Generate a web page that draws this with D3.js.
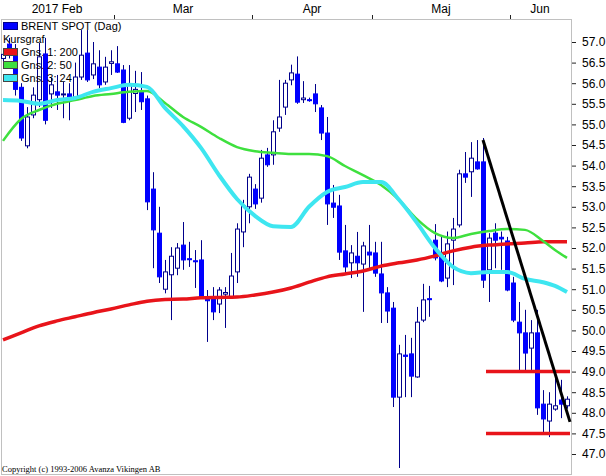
<!DOCTYPE html>
<html>
<head>
<meta charset="utf-8">
<script src="https://cdn.jsdelivr.net/npm/d3@7"></script>
<style>
  body { margin: 0; background: #fff; }
  text { font-family: "Liberation Sans", Arial, sans-serif; }
</style>
</head>
<body>
<script>
// chart data, one entry per trading day
const opens  = [56.60,56.95,56.80,55.90,54.48,55.23,55.60,56.71,55.74,55.79,55.72,55.74,55.64,56.15,56.73,56.20,56.39,56.03,56.48,56.47,
                56.32,55.15,55.75,55.80,55.62,53.43,52.36,51.00,51.35,51.51,52.07,51.74,51.69,51.71,50.80,50.81,50.64,50.88,50.81,51.42,
                52.39,53.00,53.43,53.21,54.26,54.26,54.91,55.42,56.08,56.22,55.60,55.60,55.74,55.40,54.79,53.09,53.02,51.93,51.64,51.80,
                51.61,51.90,51.88,51.37,50.91,50.54,48.38,49.40,49.43,48.87,50.25,50.77,52.19,51.78,51.27,52.19,52.56,53.80,53.85,54.09,
                54.09,51.47,52.36,52.26,52.17,51.15,50.20,49.94,49.57,49.94,48.21,47.80,48.09,48.31,48.17];
const highs  = [56.85,57.10,56.95,56.00,55.42,55.90,56.98,57.10,56.13,56.20,56.03,56.00,56.50,57.29,57.29,57.00,56.80,56.64,56.80,56.90,
                56.44,56.44,56.30,56.27,55.70,53.84,53.00,51.71,52.02,52.12,52.63,52.15,51.95,52.19,50.98,51.05,51.05,51.05,51.88,52.60,
                53.17,53.80,53.55,54.38,54.43,55.10,56.08,56.08,56.45,56.65,56.05,55.65,55.98,55.47,55.18,53.53,53.29,52.56,52.07,52.39,
                52.15,52.56,52.15,52.15,51.05,50.69,49.65,49.89,49.82,50.57,51.13,51.08,52.58,52.27,52.40,52.73,53.90,54.33,54.57,54.62,
                54.67,52.36,52.60,52.40,52.27,51.30,50.69,50.50,50.25,50.50,48.55,48.50,49.04,48.80,48.40];
const lows   = [56.50,56.60,55.70,54.60,54.42,55.15,55.42,55.00,55.40,55.35,55.15,55.10,55.59,56.08,56.03,56.10,55.88,55.96,56.20,56.25,
                55.03,55.10,55.30,55.35,52.92,51.51,51.15,50.90,50.25,51.34,51.47,51.54,51.03,50.78,49.72,50.25,50.42,50.06,50.78,51.15,
                52.02,52.60,52.95,53.10,53.97,54.02,54.82,55.23,55.95,55.50,55.52,55.55,55.30,54.62,52.56,52.73,51.71,51.39,51.27,51.30,
                50.45,51.47,51.30,50.18,50.18,48.14,46.66,48.38,48.38,48.85,50.20,50.33,51.70,51.17,51.05,51.10,52.50,53.58,53.24,53.90,
                51.03,50.69,51.51,51.47,50.95,50.20,48.97,48.97,49.00,47.95,47.53,47.41,48.05,47.87,48.10];
const closes = [56.70,56.80,55.85,54.67,55.18,55.71,56.64,55.10,55.96,55.71,55.74,55.67,56.15,56.68,56.08,56.47,55.96,56.39,56.52,56.27,
                55.05,55.96,55.85,55.55,53.12,52.44,51.30,51.42,51.80,52.00,51.71,51.72,51.67,50.81,50.72,50.45,50.98,50.92,51.32,52.46,
                53.02,53.72,53.07,54.18,54.02,54.82,55.18,56.00,56.25,55.54,55.64,55.58,55.50,54.79,53.07,52.99,51.90,51.54,51.88,51.64,
                52.05,51.83,51.39,50.91,50.47,48.38,49.43,49.37,48.89,50.20,50.74,50.75,51.76,51.20,52.10,52.46,53.80,53.72,54.18,53.92,
                51.22,52.24,52.19,52.22,50.98,50.25,49.94,49.45,49.94,48.12,47.85,48.21,48.17,48.21,48.33];

// moving averages, sampled at these day indices
const maIdx   = [0,3,6,9,12,15,18,21,24,27,30,33,36,39,42,45,48,51,54,57,60,63,66,69,72,75,78,81,84,87,90,92,94];
const ma200   = [49.77,49.94,50.11,50.23,50.33,50.43,50.52,50.62,50.71,50.75,50.76,50.79,50.80,50.81,50.86,50.93,51.03,51.17,51.30,51.37,
                 51.44,51.56,51.64,51.71,51.81,51.93,52.02,52.07,52.10,52.12,52.15,52.15,52.15];
const ma50    = [54.60,55.13,55.35,55.50,55.59,55.69,55.74,55.79,55.81,55.52,55.18,54.94,54.67,54.45,54.35,54.31,54.28,54.28,54.23,53.99,
                 53.77,53.53,53.17,52.70,52.36,52.24,52.34,52.41,52.46,52.44,52.17,51.95,51.76];
const ma24    = [55.59,55.57,55.50,55.59,55.64,55.79,55.88,55.96,55.91,55.40,54.96,54.43,53.77,53.19,52.78,52.53,52.51,53.00,53.36,53.48,
                 53.60,53.60,53.17,52.61,52.00,51.54,51.39,51.42,51.42,51.25,51.17,51.08,50.93];

// drawn lines: trend line and support levels
const trendIdx = [80, 94.5];
const trendVal = [54.62, 47.78];
const levels = [49.0, 47.5];
const levelFrom = 80.5;

const months = ["2017 Feb", "Mar", "Apr", "Maj", "Jun"];
const monthStart = [0, 19, 42, 62, 85];
const yTicks = [47,47.5,48,48.5,49,49.5,50,50.5,51,51.5,52,52.5,53,53.5,54,54.5,55,55.5,56,56.5,57];

const legendNames = ["Gns. 1: 200", "Gns. 2: 50", "Gns. 3: 24"];
const legendColors = ["#e8141a", "#3ee03e", "#3ee6f0"];

const W = 606, H = 476;
const plot = {left: 1, top: 19, right: 571, bottom: 474};
const nDays = opens.length;

const svg = d3.select("body").append("svg")
  .attr("width", W)
  .attr("height", H);

svg.append("rect").attr("width", W).attr("height", H).attr("fill", "#fff");

const x = d3.scaleLinear().domain([-0.5, nDays - 0.5]).range([0, 570]);
const y = d3.scaleLinear().domain([47, 57]).range([454, 42]);

// frame
svg.append("rect")
  .attr("x", plot.left + 0.5).attr("y", plot.top + 0.5)
  .attr("width", plot.right - plot.left).attr("height", plot.bottom - plot.top)
  .attr("fill", "none").attr("stroke", "#c0c0c0");

// month labels + ticks on top
const bounds = monthStart.map(s => x(s - 0.5)).concat([x(nDays - 0.5)]);
svg.selectAll(".month")
  .data(months)
  .enter().append("text")
    .attr("x", (d, i) => (bounds[i] + bounds[i + 1]) / 2)
    .attr("y", 13)
    .attr("text-anchor", "middle")
    .style("font-size", "12px")
    .text(d => d);
svg.selectAll(".mtick")
  .data(bounds.slice(1, -1))
  .enter().append("line")
    .attr("x1", d => Math.round(d) + 0.5).attr("x2", d => Math.round(d) + 0.5)
    .attr("y1", 15).attr("y2", 19)
    .attr("stroke", "#222");

// right axis
const yAxis = svg.append("g")
  .attr("transform", "translate(572,0)")
  .call(d3.axisRight(y).tickValues(yTicks).tickFormat(d3.format(".1f")).tickSize(4).tickPadding(6));
yAxis.select(".domain").remove();
yAxis.selectAll("text").style("font-size", "12px").attr("fill", "#000");
yAxis.selectAll("line").attr("stroke", "#222");

// candles
const candles = svg.append("g");
d3.range(nDays).forEach(i => {
  const cx = Math.round(x(i)) + 0.5;
  candles.append("line")
    .attr("x1", cx).attr("x2", cx)
    .attr("y1", y(highs[i])).attr("y2", y(lows[i]))
    .attr("stroke", "#00008b");
  const top = y(Math.max(opens[i], closes[i]));
  const bot = y(Math.min(opens[i], closes[i]));
  const up = closes[i] >= opens[i];
  candles.append("rect")
    .attr("x", cx - 2).attr("y", top)
    .attr("width", 4).attr("height", Math.max(1, bot - top))
    .attr("fill", up ? "#fff" : "#0000ff")
    .attr("stroke", up ? "#00008b" : "#0000ff");
});

// moving averages
function maLine(vals, color, width) {
  const line = d3.line()
    .x((d, k) => x(maIdx[k]))
    .y(d => y(d))
    .curve(d3.curveMonotoneX);
  svg.append("path")
    .datum(vals)
    .attr("d", line)
    .attr("fill", "none")
    .attr("stroke", color)
    .attr("stroke-width", width);
}
maLine(ma200, legendColors[0], 3.5);
maLine(ma50, legendColors[1], 2.5);
maLine(ma24, legendColors[2], 4);

// support levels
svg.selectAll(".level")
  .data(levels)
  .enter().append("line")
    .attr("x1", x(levelFrom)).attr("x2", x(nDays - 0.5))
    .attr("y1", d => y(d)).attr("y2", d => y(d))
    .attr("stroke", "#e8141a").attr("stroke-width", 3.5);

// trend line
svg.append("line")
  .attr("x1", x(trendIdx[0])).attr("y1", y(trendVal[0]))
  .attr("x2", x(trendIdx[1])).attr("y2", y(trendVal[1]))
  .attr("stroke", "#000").attr("stroke-width", 3);

// legend
const legend = svg.append("g");
legend.append("rect").attr("x", 3.5).attr("y", 22.5).attr("width", 14).attr("height", 7)
  .attr("fill", "#0000ff").attr("stroke", "#00008b");
legend.append("text").attr("x", 21).attr("y", 30).style("font-size", "11px").text("BRENT SPOT (Dag)");
legend.append("text").attr("x", 3).attr("y", 43).style("font-size", "11px").text("Kursgraf");
legendNames.forEach((n, k) => {
  legend.append("rect").attr("x", 3.5).attr("y", 48.5 + k * 13).attr("width", 14).attr("height", 7)
    .attr("fill", legendColors[k]).attr("stroke", "#444");
  legend.append("text").attr("x", 21).attr("y", 56 + k * 13).style("font-size", "11px").text(n);
});

// copyright
svg.append("text")
  .attr("x", 2).attr("y", 472)
  .style("font-family", "'Liberation Serif', 'Times New Roman', serif")
  .style("font-size", "8.5px")
  .text("Copyright (c) 1993-2006 Avanza Vikingen AB");
</script>
</body>
</html>
